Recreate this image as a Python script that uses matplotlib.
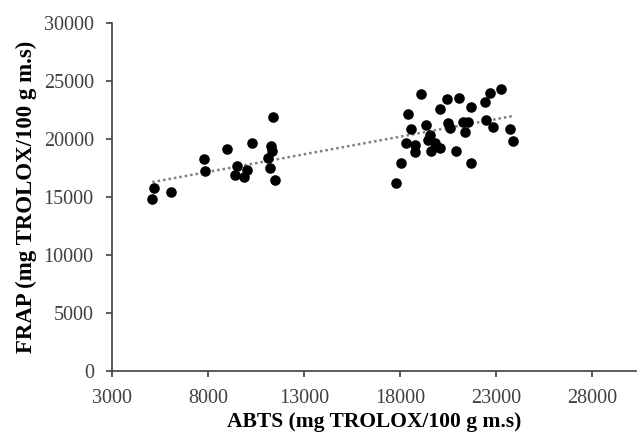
import numpy as np
import matplotlib
matplotlib.use("Agg")
import matplotlib.pyplot as plt

abts = [5083, 5172, 6042, 7792, 7844, 8958, 9390, 9521, 9859, 10042, 10276,
        11125, 11213, 11265, 11333, 11385, 11489,
        17775, 18036, 18333, 18417, 18594, 18765, 18802, 19114, 19375, 19458,
        19547, 19635, 19807, 20068, 20068, 20469, 20500, 20589, 20938, 21073,
        21281, 21542, 21370, 21719, 21682, 22411, 22672, 23245, 22500, 22844,
        23714, 23886]
frap = [14854, 15752, 15433, 18283, 17246, 19172, 16858, 17635, 16685, 17333, 19638,
        18395, 17479, 19431, 18973, 21884, 16495,
        16236, 17911, 19690, 22143, 20847, 19491, 18913, 23870, 21219, 19923,
        20355, 18999, 19690, 19206, 22575, 23438, 21417, 20934, 18973, 23525,
        21504, 21504, 20640, 22799, 17963, 23231, 23956, 24302, 21650, 21020,
        20873, 19837]

x_ticks = [3000, 8000, 13000, 18000, 23000, 28000]
y_ticks = [0, 5000, 10000, 15000, 20000, 25000, 30000]

plt.rcParams['font.family'] = ['Liberation Serif', 'DejaVu Serif']

fig = plt.figure(figsize=(6.37, 4.38), dpi=100)
ax = fig.add_axes([112.3/637, (438-370.7)/438, (636-112.3)/637, (370.7-23.3)/438])

x = np.array(abts, dtype=float)
y = np.array(frap, dtype=float)
ax.scatter(x, y, s=58, color='black', zorder=3, linewidths=0)

k, b = np.polyfit(x, y, 1)
xs = np.array([x.min(), x.max()])
ax.plot(xs, k*xs + b, linestyle=(0, (1, 1.2)), color='#7f7f7f', lw=1.8, zorder=2)

ax.set_xlim(3000, 30300)
ax.set_ylim(0, 30000)
ax.set_xticks(x_ticks)
ax.set_yticks(y_ticks)

for side in ['top', 'right']:
    ax.spines[side].set_visible(False)
for side in ['left', 'bottom']:
    ax.spines[side].set_color('#404040')
    ax.spines[side].set_linewidth(1.2)

ax.tick_params(axis='both', direction='out', length=4.3, width=1.2, color='#404040',
               labelsize=14.5, labelcolor='#404040')
ax.tick_params(axis='x', pad=9)
ax.tick_params(axis='y', pad=9)

ax.set_xlabel('ABTS (mg TROLOX/100 g m.s)', fontsize=15.5, fontweight='bold', labelpad=3)
ax.set_ylabel('FRAP (mg TROLOX/100 g m.s)', fontsize=16.5, fontweight='bold', labelpad=5)

fig.savefig('out.png', dpi=100)
